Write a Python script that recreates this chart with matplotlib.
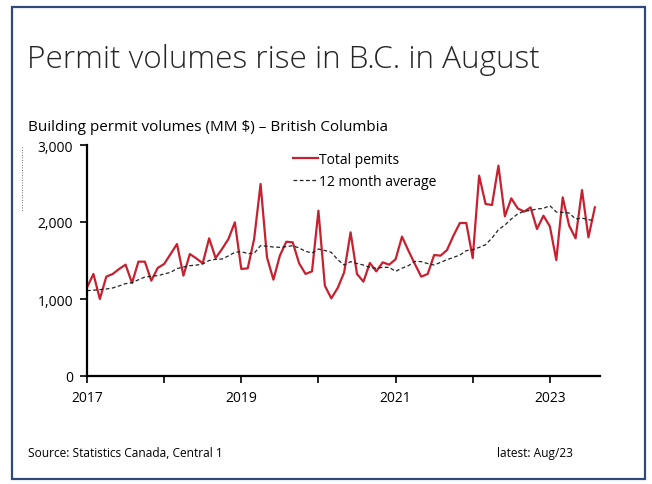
import numpy as np
import matplotlib.pyplot as plt
from matplotlib.patches import Rectangle
from matplotlib.lines import Line2D

# monthly data, Jan 2017 .. Aug 2023 (MM $)
total_permits = [
    1150, 1325, 1000, 1290, 1325, 1390, 1446, 1208, 1485, 1485, 1238, 1403,
    1455, 1584, 1714, 1303, 1584, 1528, 1463, 1788, 1532, 1649, 1779, 1996,
    1390, 1398, 1779, 2494, 1541, 1251, 1563, 1744, 1736, 1463, 1325, 1359,
    2147, 1173, 1009, 1143, 1346, 1866, 1325, 1225, 1468, 1359, 1476, 1446,
    1515, 1810, 1628, 1455, 1290, 1325, 1571, 1563, 1636, 1822, 1987, 1987,
    1532, 2602, 2234, 2221, 2732, 2074, 2307, 2177, 2134, 2190, 1909, 2082,
    1944, 1506, 2320, 1953, 1788, 2415, 1801, 2190,
]
avg_12m = [
    1108, 1115, 1121, 1130, 1143, 1170, 1200, 1212, 1250, 1285, 1295, 1303,
    1325, 1346, 1395, 1415, 1433, 1440, 1455, 1500, 1515, 1519, 1560, 1606,
    1615, 1590, 1593, 1693, 1685, 1675, 1671, 1680, 1693, 1662, 1620, 1597,
    1649, 1630, 1606, 1511, 1441, 1485, 1460, 1441, 1411, 1398, 1411, 1411,
    1359, 1400, 1433, 1489, 1485, 1460, 1441, 1476, 1511, 1540, 1571, 1628,
    1640, 1670, 1705, 1792, 1900, 1960, 2039, 2104, 2140, 2150, 2169, 2177,
    2212, 2130, 2125, 2117, 2039, 2050, 2030, 2017,
]
years = list(range(2017, 2024))
year_labels = ['2017', '', '2019', '', '2021', '', '2023']
y_ticks = [0, 1000, 2000, 3000]

font = 'Open Sans'
plt.rcParams['font.family'] = [font, 'DejaVu Sans']

fig = plt.figure(figsize=(6.52, 4.85), dpi=100)

# frame around the whole graphic
fig.patches.append(Rectangle((12 / 652, 1 - 480 / 485), 633 / 652, 472 / 485,
                             transform=fig.transFigure, fill=False,
                             edgecolor='#2E4A7A', linewidth=1.6))

fig.text(27 / 652, 1 - 68 / 485, 'Permit volumes rise in B.C. in August',
         fontsize=22.7, color='#262626', fontweight='light')
fig.text(28 / 652, 1 - 131 / 485, 'Building permit volumes (MM $) – British Columbia',
         fontsize=11, color='black')
fig.text(28 / 652, 1 - 457 / 485, 'Source: Statistics Canada, Central 1',
         fontsize=8.6, color='black')
fig.text(497 / 652, 1 - 457 / 485, 'latest: Aug/23', fontsize=8.6, color='black')
fig.add_artist(Line2D([22 / 652, 22 / 652], [1 - 148 / 485, 1 - 213 / 485],
                      transform=fig.transFigure, color='#444444',
                      linewidth=0.6, linestyle=(0, (1, 2))))

ax = fig.add_axes([87 / 652, 1 - 377 / 485, 513 / 652, 231 / 485])
x = np.arange(len(total_permits))
ax.plot(x, total_permits, color='#C8202F', linewidth=1.6, label='Total pemits')
ax.plot(x, avg_12m, color='#222222', linewidth=0.9, linestyle=(0, (3, 2)),
        label='12 month average')

ax.set_xlim(0, 79.8)
ax.set_ylim(0, 3000)
ax.set_xticks([(yr - 2017) * 12 for yr in years])
ax.set_xticklabels(year_labels, fontsize=10)
ax.set_yticks(y_ticks)
ax.set_yticklabels([f'{v:,}' for v in y_ticks], fontsize=10)
ax.tick_params(axis='both', direction='out', length=5, width=1.2, pad=5)
for s in ['top', 'right']:
    ax.spines[s].set_visible(False)
for s in ['left', 'bottom']:
    ax.spines[s].set_linewidth(1.6)

ax.legend(loc='upper left', bbox_to_anchor=(0.377, 1.025), frameon=False,
          fontsize=10, handlelength=1.8, handletextpad=0.1, labelspacing=0.5)

fig.savefig('out.png', dpi=100)
